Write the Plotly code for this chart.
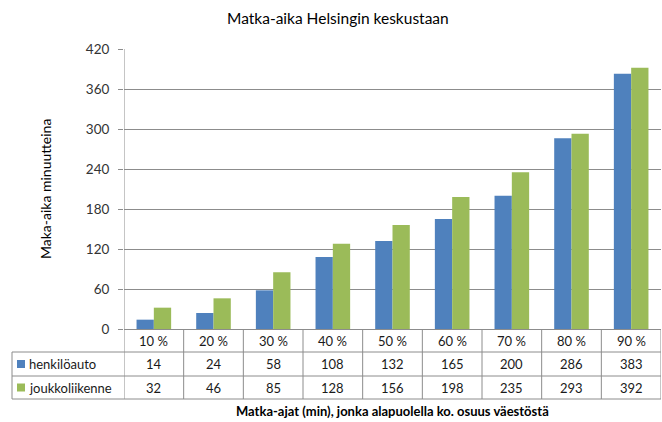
import plotly.graph_objects as go

categories = ["10 %", "20 %", "30 %", "40 %", "50 %", "60 %", "70 %", "80 %", "90 %"]
series_names = ["henkilöauto", "joukkoliikenne"]
henkiloauto = [14, 24, 58, 108, 132, 165, 200, 286, 383]
joukkoliikenne = [32, 46, 85, 128, 156, 198, 235, 293, 392]
y_ticks = [0, 60, 120, 180, 240, 300, 360, 420]

title_text = "Matka-aika Helsingin keskustaan"
y_title = "Maka-aika minuutteina"
x_title = "Matka-ajat (min), jonka alapuolella ko. osuus väestöstä"

colors = ["#4F81BD", "#9BBB59"]
FONT = "Lato, 'Open Sans', sans-serif"
GRID = "#8c8c8c"
TXT = "#1a1a1a"

W, H = 662, 422
L, R, T, B = 124, 1, 49, 93
pw, ph = W - L - R, H - T - B

def px_x(p):
    return (p - L) / pw

def px_y(p):
    return (H - B - p) / ph

x_idx = list(range(len(categories)))
series = [henkiloauto, joukkoliikenne]

fig = go.Figure()
for name, vals, c in zip(series_names, series, colors):
    fig.add_trace(go.Bar(x=x_idx, y=vals, name=name, marker=dict(color=c, line=dict(width=0)),
                         showlegend=False))

shapes = []
annotations = []
line = dict(color=GRID, width=1)

row_top = H - B
row1 = 352
row2 = 376
row3 = 399
left_px = 12

for yp in [row1, row2, row3]:
    shapes.append(dict(type="line", xref="paper", yref="paper", x0=px_x(left_px), x1=1,
                       y0=px_y(yp), y1=px_y(yp), line=line))
for i in range(len(categories) + 1):
    shapes.append(dict(type="line", xref="x", yref="paper", x0=i - 0.5, x1=i - 0.5,
                       y0=px_y(row3), y1=0 if i > 0 else 1, line=line))
shapes.append(dict(type="line", xref="paper", yref="paper", x0=px_x(left_px), x1=px_x(left_px),
                   y0=px_y(row3), y1=px_y(row1), line=line))

for i, cat in enumerate(categories):
    annotations.append(dict(x=i, y=px_y((row_top + row1) / 2), xref="x", yref="paper",
                            text=cat, showarrow=False, font=dict(size=13, color=TXT, family=FONT),
                            xanchor="center", yanchor="middle"))
row_centers = [(row1 + row2) / 2, (row2 + row3) / 2]
for name, vals, c, yc in zip(series_names, series, colors, row_centers):
    for i, v in enumerate(vals):
        annotations.append(dict(x=i, y=px_y(yc), xref="x", yref="paper", text=str(v),
                                showarrow=False, font=dict(size=13, color=TXT, family=FONT),
                                xanchor="center", yanchor="middle"))
    shapes.append(dict(type="rect", xref="paper", yref="paper", x0=px_x(17), x1=px_x(25),
                       y0=px_y(yc + 4), y1=px_y(yc - 4), fillcolor=c, line=dict(width=0)))
    annotations.append(dict(x=px_x(27), y=px_y(yc), xref="paper", yref="paper", text=name,
                            showarrow=False, font=dict(size=13, color=TXT, family=FONT),
                            xanchor="left", yanchor="middle"))

annotations.append(dict(x=px_x(338), y=px_y(18), xref="paper", yref="paper", text=title_text,
                        showarrow=False, font=dict(size=15.5, color="#000", family=FONT),
                        xanchor="center", yanchor="middle"))
annotations.append(dict(x=px_x(45), y=0.5, xref="paper", yref="paper", text=y_title, textangle=-90,
                        showarrow=False, font=dict(size=14, color="#000", family=FONT),
                        xanchor="center", yanchor="middle"))
annotations.append(dict(x=0.5, y=px_y(411), xref="paper", yref="paper", text="<b>" + x_title + "</b>",
                        showarrow=False, font=dict(size=13, color="#000", family=FONT),
                        xanchor="center", yanchor="middle"))

fig.update_layout(
    width=W, height=H,
    margin=dict(l=L, r=R, t=T, b=B, pad=0),
    paper_bgcolor="white", plot_bgcolor="white",
    barmode="group", bargap=0.42, bargroupgap=0,
    font=dict(family=FONT, color=TXT, size=13),
    xaxis=dict(range=[-0.5, len(categories) - 0.5], showticklabels=False, showgrid=False,
               zeroline=False, showline=True, linecolor=GRID, linewidth=1, ticks="", fixedrange=True),
    yaxis=dict(range=[0, 420], tickvals=y_ticks, ticks="outside", ticklen=5, tickcolor=GRID,
               ticklabelstandoff=6,
               showgrid=True, gridcolor=GRID, gridwidth=1, zeroline=False, showline=False,
               tickfont=dict(size=13.5, color="#333", family=FONT), fixedrange=True),
    shapes=shapes,
    annotations=annotations,
)

fig.write_html("out.html", config={"displayModeBar": False},
               post_script="document.body.style.margin='0';")
